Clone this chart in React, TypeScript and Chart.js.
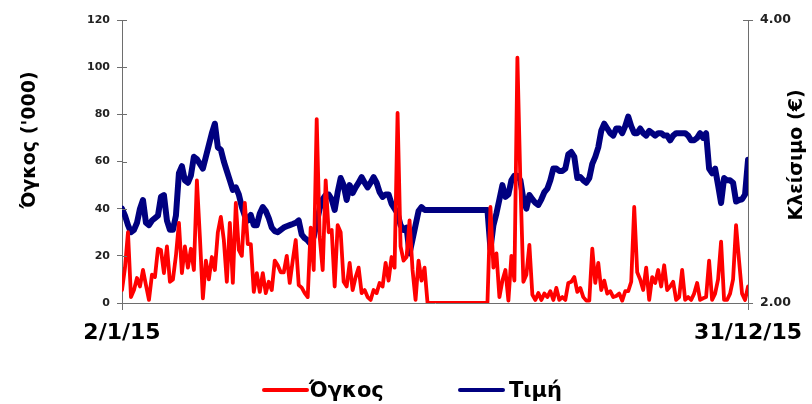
import React, { useEffect, useRef } from "react";
import { Chart, registerables } from "chart.js";

Chart.register(...registerables);

// ---- data ----
const xTickLabels = ["2/1/15", "31/12/15"];
const seriesNames = ["Όγκος", "Τιμή"];
const axisTitles = ["Όγκος ('000)", "Κλείσιμο (€)"];
const volumeTicks = [0, 20, 40, 60, 80, 100, 120];
const priceTicks = [2, 4];

// trading volume ('000), one value per session
const volume = [
  5.5, 15, 30, 2.5, 5.5, 10.6, 7, 14, 7.6, 1.3,
  12, 11, 23, 22.5, 12.7, 24, 9, 10, 20, 34,
  12.7, 24, 15, 23, 14, 52, 28, 2, 18, 10,
  19.5, 14, 30, 36.5, 26.7, 9, 34, 8.5, 42.4, 22.5,
  20, 42.4, 25, 25, 4.7, 12.7, 4.7, 12.7, 4.2, 9,
  5.5, 18, 16, 13, 13, 20, 8.5, 18, 26.7, 7.6,
  6.5, 4.2, 2.5, 32, 14, 78, 28, 14, 52, 30,
  31, 7, 33, 30, 9, 7, 17, 5.5, 11, 15,
  4.2, 5.5, 2.5, 1.3, 5.5, 4.2, 8.5, 7, 17, 9.5,
  19.5, 15, 80.6, 24, 18, 19.5, 35, 14, 1.3, 18,
  9.5, 15, 0,
  0, 0, 0, 0, 0, 0, 0, 0, 0, 0,
  0, 0, 0, 0, 0, 0, 0, 0, 0, 0,
  40.7, 15, 21, 2.5, 9.5, 14, 1, 20, 9.5, 104,
  51, 9, 12, 24.6, 3.5, 1.3, 4.2, 1.3, 4, 2.5,
  5, 1.3, 6.4, 1.3, 2.5, 1.3, 8.5, 9, 11, 4.7,
  6.4, 2.5, 1, 1, 23, 8.5, 17, 5.5, 9.5, 4,
  5, 2.5, 3, 4, 1, 5, 5, 9, 40.7, 13,
  10, 5.5, 15, 1.3, 11, 8.5, 14, 7, 16, 5.5,
  7, 9, 1.3, 2.5, 14, 1.3, 2.5, 1.3, 4, 8.5,
  1.3, 2, 2.5, 18, 1.3, 4, 10, 26, 1.3, 1.3,
  4, 10, 33, 18, 4, 1.3, 7,
];

// closing price (€), one value per session
const price = [
  2.667, 2.617, 2.55, 2.5, 2.517, 2.567, 2.667, 2.728, 2.567, 2.55,
  2.583, 2.6, 2.617, 2.75, 2.763, 2.583, 2.517, 2.517, 2.617, 2.917,
  2.967, 2.867, 2.85, 2.9, 3.033, 3.017, 2.983, 2.95, 3.033, 3.117,
  3.2, 3.267, 3.1, 3.083, 3.0, 2.933, 2.867, 2.8, 2.817, 2.767,
  2.678, 2.617, 2.583, 2.622, 2.55, 2.55, 2.633, 2.678, 2.65, 2.6,
  2.533, 2.508, 2.5, 2.517, 2.533, 2.542, 2.55, 2.558, 2.567, 2.583,
  2.483, 2.458, 2.442, 2.417, 2.467, 2.567, 2.667, 2.733, 2.763, 2.767,
  2.733, 2.658, 2.783, 2.883, 2.833, 2.728, 2.833, 2.777, 2.817, 2.85,
  2.89, 2.85, 2.817, 2.85, 2.89, 2.85, 2.783, 2.75, 2.767, 2.767,
  2.7, 2.667, 2.633, 2.55, 2.517, 2.533, 2.35, 2.45, 2.55, 2.65,
  2.678, 2.658,
  2.658, 2.658, 2.658, 2.658, 2.658, 2.658, 2.658, 2.658, 2.658, 2.658,
  2.658, 2.658, 2.658, 2.658, 2.658, 2.658, 2.658, 2.658, 2.658, 2.658,
  2.658,
  2.383, 2.55, 2.633, 2.733, 2.833, 2.75, 2.767, 2.867, 2.9, 2.9,
  2.867, 2.733, 2.667, 2.763, 2.733, 2.708, 2.693, 2.733, 2.783, 2.808,
  2.867, 2.95, 2.95, 2.933, 2.933, 2.95, 3.05, 3.067, 3.033, 2.883,
  2.89, 2.867, 2.85, 2.883, 2.983, 3.033, 3.1, 3.217, 3.267, 3.233,
  3.2, 3.183, 3.233, 3.233, 3.2, 3.25, 3.317, 3.25, 3.2, 3.2,
  3.233, 3.2, 3.183, 3.217, 3.2, 3.183, 3.2, 3.2, 3.183, 3.183,
  3.15, 3.183, 3.2, 3.2, 3.2, 3.2, 3.183, 3.15, 3.15, 3.167,
  3.2, 3.167, 3.2, 2.95, 2.917, 2.95, 2.833, 2.707, 2.883, 2.867,
  2.867, 2.85, 2.717, 2.728, 2.733, 2.767, 3.012,
];

// ---- styling ----
const RED = "#ff0000";
const NAVY = "#000080";
const AXIS = "#6e6e6e";
const FONT = '"DejaVu Sans", Verdana, sans-serif';

const extrasPlugin = {
  id: "extras",
  afterDraw(chart: any) {
    const ctx = chart.ctx;
    const { left, right } = chart.chartArea;
    ctx.save();
    ctx.strokeStyle = AXIS;
    ctx.lineWidth = 1;
    const ys = chart.scales.y;
    const yr = chart.scales.y1;
    ys.ticks.forEach((t: any) => {
      const py = Math.round(ys.getPixelForValue(t.value)) + 0.5;
      ctx.beginPath();
      ctx.moveTo(left, py);
      ctx.lineTo(left + 5, py);
      ctx.stroke();
    });
    yr.ticks.forEach((t: any) => {
      const py = Math.round(yr.getPixelForValue(t.value)) + 0.5;
      ctx.beginPath();
      ctx.moveTo(right - 5, py);
      ctx.lineTo(right, py);
      ctx.stroke();
    });
    ctx.fillStyle = "#000";
    ctx.font = `bold 19px ${FONT}`;
    ctx.textAlign = "center";
    ctx.textBaseline = "middle";
    ctx.save();
    ctx.translate(30, 140);
    ctx.rotate(-Math.PI / 2);
    ctx.fillText(axisTitles[0], 0, 0);
    ctx.restore();
    ctx.save();
    ctx.translate(797, 155);
    ctx.rotate(-Math.PI / 2);
    ctx.fillText(axisTitles[1], 0, 0);
    ctx.restore();
    ctx.restore();
  },
};

export default function App() {
  const ref = useRef<HTMLCanvasElement | null>(null);

  useEffect(() => {
    if (!ref.current) return;
    const n = volume.length;
    const chart = new Chart(ref.current, {
      type: "line",
      data: {
        datasets: [
          {
            label: seriesNames[0],
            data: volume.map((v, i) => ({ x: i, y: v })),
            yAxisID: "y",
            borderColor: RED,
            backgroundColor: RED,
            borderWidth: 3.8,
            pointRadius: 0,
            tension: 0,
            borderJoinStyle: "round",
            borderCapStyle: "round",
          },
          {
            label: seriesNames[1],
            data: price.map((v, i) => ({ x: i, y: v })),
            yAxisID: "y1",
            borderColor: NAVY,
            backgroundColor: NAVY,
            borderWidth: 6,
            pointRadius: 0,
            tension: 0,
            borderJoinStyle: "round",
            borderCapStyle: "round",
          },
        ],
      },
      options: {
        responsive: false,
        animation: false,
        layout: { padding: { top: 20, left: 0, right: 0, bottom: 0 } },
        plugins: { legend: { display: false }, tooltip: { enabled: false } },
        scales: {
          x: {
            type: "linear",
            min: 0,
            max: n - 1,
            afterBuildTicks: (scale: any) => {
              scale.ticks = [{ value: 0 }, { value: n - 1 }];
            },
            afterFit: (scale: any) => {
              scale.height = 101;
            },
            ticks: {
              callback: (v: any) => (v === 0 ? xTickLabels[0] : xTickLabels[1]),
              font: { family: FONT, size: 22, weight: "bold" },
              color: "#000",
              maxRotation: 0,
              minRotation: 0,
              padding: 10,
            },
            grid: { drawOnChartArea: false, tickLength: 7, color: AXIS },
            border: { display: true, color: AXIS },
          },
          y: {
            position: "left",
            min: volumeTicks[0],
            max: volumeTicks[volumeTicks.length - 1],
            afterBuildTicks: (scale: any) => {
              scale.ticks = volumeTicks.map((v) => ({ value: v }));
            },
            afterFit: (scale: any) => {
              scale.width = 122;
            },
            ticks: {
              font: { family: FONT, size: 11, weight: "bold" },
              color: "#222",
              padding: 7,
            },
            grid: { drawOnChartArea: false, tickLength: 5, color: AXIS },
            border: { display: true, color: AXIS },
          },
          y1: {
            position: "right",
            min: priceTicks[0],
            max: priceTicks[1],
            afterBuildTicks: (scale: any) => {
              scale.ticks = priceTicks.map((v) => ({ value: v }));
            },
            afterFit: (scale: any) => {
              scale.width = 62;
            },
            ticks: {
              callback: (v: any) => Number(v).toFixed(2),
              font: { family: FONT, size: 12.5, weight: "bold" },
              color: "#222",
              padding: 7,
            },
            grid: { drawOnChartArea: false, tickLength: 5, color: AXIS },
            border: { display: true, color: AXIS },
          },
        },
      },
      plugins: [extrasPlugin],
    } as any);
    return () => chart.destroy();
  }, []);

  const legendText: React.CSSProperties = {
    position: "absolute",
    top: 379,
    font: `bold 21px ${FONT}`,
    lineHeight: "23px",
    color: "#000",
    whiteSpace: "nowrap",
  };
  const legendLine: React.CSSProperties = {
    position: "absolute",
    top: 388,
    width: 47,
    height: 4,
    borderRadius: 2,
  };

  return (
    <div style={{ position: "fixed", left: 0, top: 0, width: 812, height: 404, background: "#fff" }}>
      <canvas ref={ref} width={812} height={404} style={{ display: "block" }} />
      <div style={{ ...legendLine, left: 262, background: RED }} />
      <div style={{ ...legendText, left: 309 }}>{seriesNames[0]}</div>
      <div style={{ ...legendLine, left: 458, background: NAVY }} />
      <div style={{ ...legendText, left: 509 }}>{seriesNames[1]}</div>
    </div>
  );
}
